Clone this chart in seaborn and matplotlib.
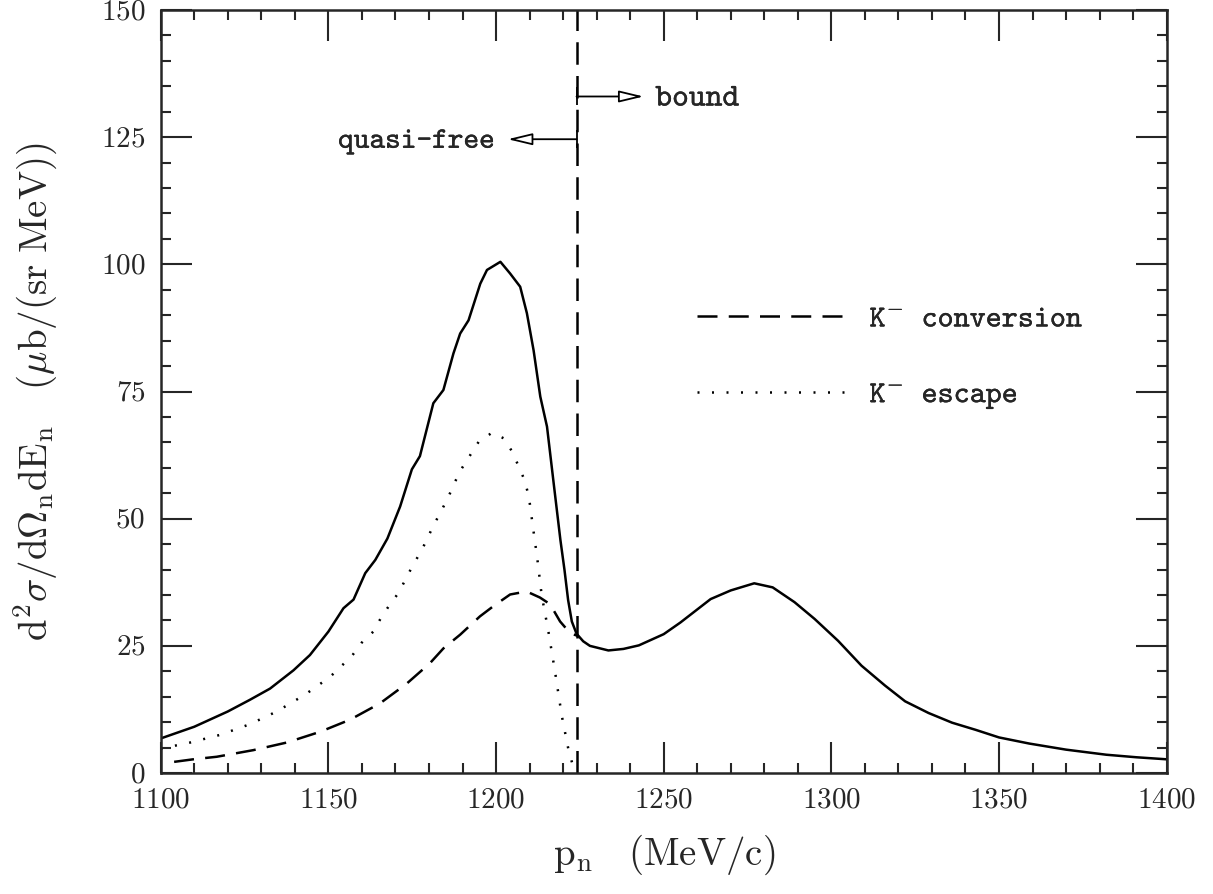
import numpy as np
import pandas as pd
import matplotlib
matplotlib.use("Agg")
import matplotlib.pyplot as plt
import matplotlib.patheffects as pe
from matplotlib.ticker import MultipleLocator, FuncFormatter
import seaborn as sns

# data
x_total = [1100, 1110, 1120, 1126.6, 1132.6, 1139.6, 1144.5, 1150, 1154.5, 1157.5, 1161,
           1164, 1167.6, 1171.4, 1174.9, 1177.3, 1181.3, 1184.3, 1187.3, 1189.3, 1191.8,
           1195.3, 1197.3, 1201.3, 1204.2, 1207.2, 1209.2, 1211.2, 1213.2, 1215.2, 1217.2,
           1219.2, 1220.4, 1221.5, 1222.6, 1224, 1226, 1228, 1233.5, 1238, 1242.6, 1250,
           1255, 1264, 1270, 1277, 1282.5, 1289, 1295, 1302, 1309, 1316, 1322, 1329, 1336,
           1343, 1350, 1359, 1370, 1382, 1391, 1400]
y_total = [6.8, 9.1, 12.1, 14.4, 16.6, 20.2, 23.2, 27.8, 32.4, 34.1, 39.3,
           41.9, 46.1, 52.4, 59.7, 62.3, 72.7, 75.3, 82.5, 86.4, 89.0,
           96.2, 98.9, 100.5, 98.2, 95.6, 90.4, 83.1, 74.0, 68.1, 56.9,
           45.8, 40.0, 34.0, 29.8, 27.4, 25.9, 25.0, 24.1, 24.4, 25.1, 27.3,
           29.6, 34.2, 35.9, 37.3, 36.5, 33.6, 30.3, 26.0, 21.1, 17.2, 14.1, 11.8, 9.9,
           8.5, 7.0, 5.8, 4.6, 3.6, 3.1, 2.7]

x_escape = [1100, 1108.8, 1117.7, 1126.6, 1134.6, 1143, 1150.5, 1157, 1159.9, 1163.4,
            1165.6, 1168.2, 1170.9, 1173.2, 1175, 1177.9, 1181.3, 1183.8, 1185.8, 1187.8,
            1189.8, 1192.3, 1194.8, 1198.8, 1202.3, 1204.8, 1206.8, 1208.5, 1209.8, 1211,
            1212.3, 1213.6, 1215.6, 1217.6, 1219.6, 1221.6, 1223.4]
y_escape = [4.8, 6.0, 7.5, 9.6, 12.1, 15.4, 18.9, 23.0, 25.6, 27.8,
            30.4, 33.0, 35.4, 38.3, 40.6, 43.9, 48.6, 51.7, 54.3, 57.3,
            59.9, 62.5, 65.1, 66.9, 65.8, 63.2, 60.2, 57.6, 54.3, 48.4,
            42.2, 35.0, 27.9, 19.9, 11.3, 4.6, 0.3]

x_conv = [1104, 1109.7, 1116.7, 1127.6, 1137.6, 1147.5, 1156.5, 1165.4, 1173.4, 1180.3,
          1184.3, 1189.3, 1195.2, 1199.2, 1204.2, 1209.1, 1213.1, 1216.1, 1219.1, 1222.1,
          1224.6]
y_conv = [2.2, 2.7, 3.2, 4.5, 6.0, 8.1, 10.5, 13.7, 17.6, 21.6,
          24.5, 27.2, 30.8, 32.8, 35.1, 35.7, 34.5, 33.2, 29.8, 27.5,
          26.9]

threshold = 1224
y_bound = 133
y_quasi = 124.6
labels = [r"K$^{-}$ conversion", r"K$^{-}$ escape"]

sns.set_style("ticks")
plt.rcParams["font.family"] = ["cmtt10", "DejaVu Sans"]
plt.rcParams["mathtext.fontset"] = "cm"
plt.rcParams["axes.linewidth"] = 1.8

# a touch heavier text, like the original
heavy = [pe.withStroke(linewidth=0.2, foreground="black")]

fig = plt.figure(figsize=(12.13, 8.94), dpi=100)
ax = fig.add_axes([0.1325, 0.1353, 0.8293, 0.8535])

lw = 1.8
sns.lineplot(x=x_total, y=y_total, ax=ax, color="black", lw=lw, sort=False, estimator=None)
sns.lineplot(x=x_conv, y=y_conv, ax=ax, color="black", lw=lw, sort=False, estimator=None,
             linestyle=(0, (8, 4.5)), label=labels[0])
sns.lineplot(x=x_escape, y=y_escape, ax=ax, color="black", lw=lw, sort=False, estimator=None,
             linestyle=(0, (0.8, 5)), label=labels[1])
ax.axvline(threshold, color="black", lw=lw, linestyle=(0, (9, 4.5)))

# arrows
head = "-|>,head_length=0.75,head_width=0.18"
ax.annotate("", xy=(threshold + 20, y_bound), xytext=(threshold, y_bound),
            arrowprops=dict(arrowstyle=head, fc="white", ec="black", lw=1.3,
                            shrinkA=0, shrinkB=0, mutation_scale=20))
ax.annotate("", xy=(threshold - 20.5, y_quasi), xytext=(threshold, y_quasi),
            arrowprops=dict(arrowstyle=head, fc="white", ec="black", lw=1.3,
                            shrinkA=0, shrinkB=0, mutation_scale=20))
ax.plot([threshold, threshold], [y_bound, y_quasi], ls="none", marker="|",
        markersize=13, mew=1.3, color="black")
ax.text(threshold + 23.5, y_bound - 0.6, "bound", fontsize=23, va="center", ha="left",
        path_effects=heavy)
ax.text(threshold - 24.3, y_quasi - 0.6, "quasi-free", fontsize=21.5, va="center", ha="right",
        path_effects=heavy)

leg = ax.legend(loc="upper left", bbox_to_anchor=(0.533, 0.613), frameon=False,
                fontsize=22, handlelength=4.8, handletextpad=0.85, labelspacing=1.55,
                borderpad=0, borderaxespad=0)
for t in leg.get_texts():
    t.set_path_effects(heavy)

ax.set_xlim(1100, 1400)
ax.set_ylim(0, 150)
ax.xaxis.set_major_locator(MultipleLocator(50))
ax.xaxis.set_minor_locator(MultipleLocator(10))
ax.yaxis.set_major_locator(MultipleLocator(25))
ax.yaxis.set_minor_locator(MultipleLocator(5))
ax.tick_params(which="both", direction="in", top=True, right=True, width=1.5, labelsize=21)
ax.tick_params(which="major", length=22)
ax.tick_params(which="minor", length=7.5)
ax.tick_params(axis="x", which="major", pad=12)
ax.tick_params(axis="y", which="major", pad=11)
ax.xaxis.set_major_formatter(FuncFormatter(lambda v, p: f"${v:.0f}$"))
ax.yaxis.set_major_formatter(FuncFormatter(lambda v, p: f"${v:.0f}$"))

ax.set_xlabel(r"$\mathrm{p_n}\quad\mathrm{(MeV/c)}$", fontsize=28, labelpad=13)
ax.set_ylabel(r"$\mathrm{d^2}\sigma/\mathrm{d}\Omega_\mathrm{n}\mathrm{dE_n}\quad(\mu\mathrm{b/(sr\ MeV))}$",
              fontsize=28, labelpad=30)

fig.savefig("out.png", dpi=100)
